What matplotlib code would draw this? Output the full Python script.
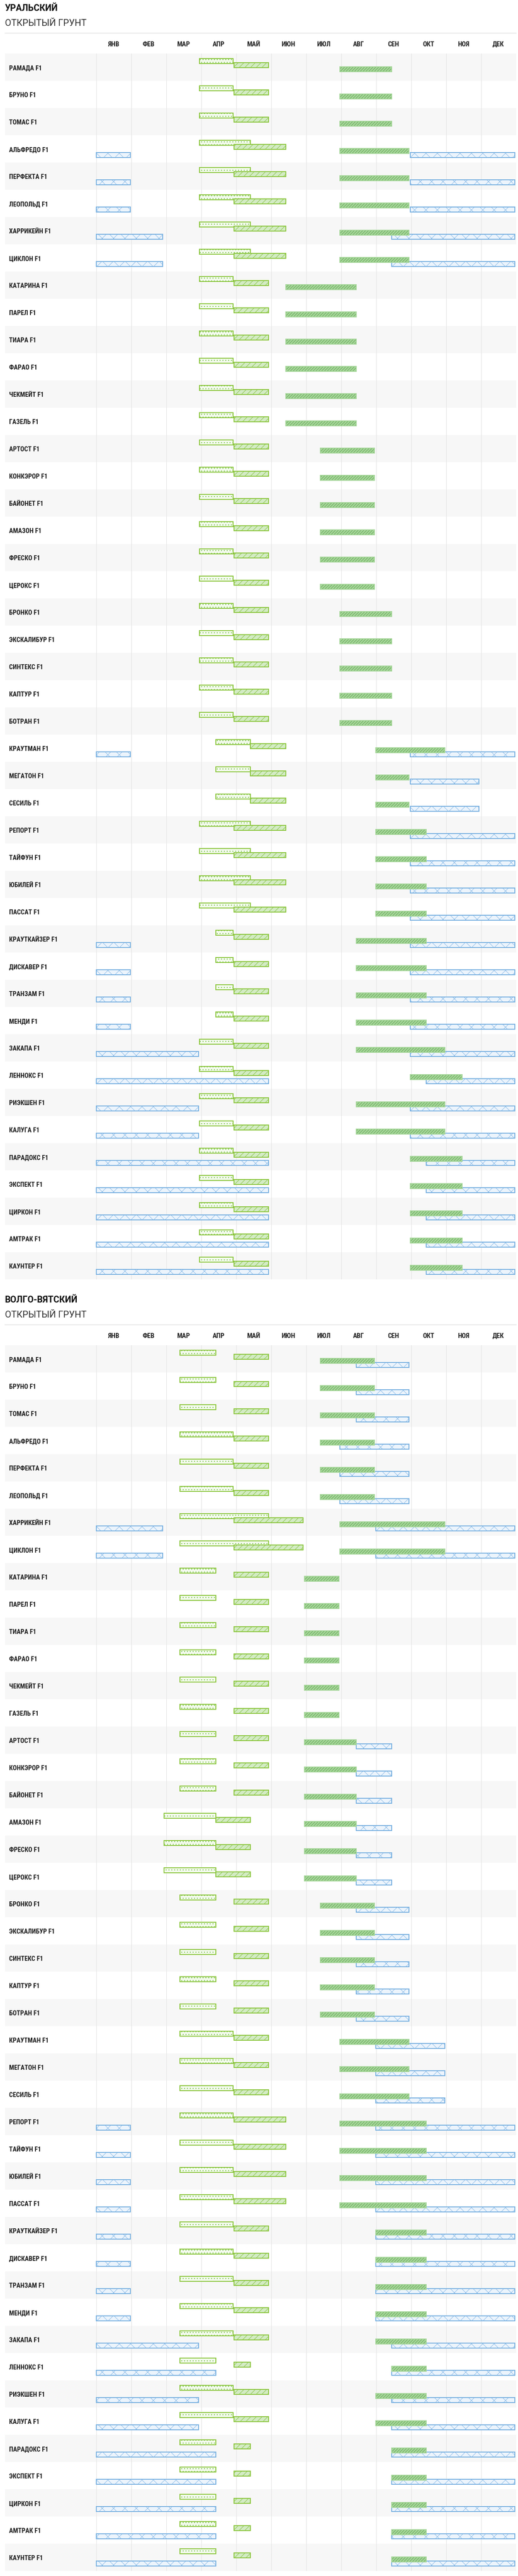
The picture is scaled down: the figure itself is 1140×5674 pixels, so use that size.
import datetime as dt
import matplotlib
matplotlib.use("Agg")
import matplotlib.pyplot as plt
from matplotlib import font_manager as fm
from matplotlib.lines import Line2D

# ---------------- DATA ----------------
MONTHS = ["ЯНВ", "ФЕВ", "МАР", "АПР", "МАЙ", "ИЮН", "ИЮЛ", "АВГ", "СЕН", "ОКТ", "НОЯ", "ДЕК"]

region_titles = ["УРАЛЬСКИЙ", "ВОЛГО-ВЯТСКИЙ"]
region_subtitle = "ОТКРЫТЫЙ ГРУНТ"

varieties = [
    "РАМАДА F1", "БРУНО F1", "ТОМАС F1", "АЛЬФРЕДО F1", "ПЕРФЕКТА F1", "ЛЕОПОЛЬД F1",
    "ХАРРИКЕЙН F1", "ЦИКЛОН F1", "КАТАРИНА F1", "ПАРЕЛ F1", "ТИАРА F1", "ФАРАО F1",
    "ЧЕКМЕЙТ F1", "ГАЗЕЛЬ F1", "АРТОСТ F1", "КОНКЭРОР F1", "БАЙОНЕТ F1", "АМАЗОН F1",
    "ФРЕСКО F1", "ЦЕРОКС F1", "БРОНКО F1", "ЭКСКАЛИБУР F1", "СИНТЕКС F1", "КАПТУР F1",
    "БОТРАН F1", "КРАУТМАН F1", "МЕГАТОН F1", "СЕСИЛЬ F1", "РЕПОРТ F1", "ТАЙФУН F1",
    "ЮБИЛЕЙ F1", "ПАССАТ F1", "КРАУТКАЙЗЕР F1", "ДИСКАВЕР F1", "ТРАНЗАМ F1", "МЕНДИ F1",
    "ЗАКАПА F1", "ЛЕННОКС F1", "РИЭКШЕН F1", "КАЛУГА F1", "ПАРАДОКС F1", "ЭКСПЕКТ F1",
    "ЦИРКОН F1", "АМТРАК F1", "КАУНТЕР F1",
]

# Уральский: (start, end) as "MM-DD"
ural_sowing = [
    ("04-01", "04-30"), ("04-01", "04-30"), ("04-01", "04-30"),
    ("04-01", "05-15"), ("04-01", "05-15"), ("04-01", "05-15"), ("04-01", "05-15"), ("04-01", "05-15"),
    ("04-01", "04-30"), ("04-01", "04-30"), ("04-01", "04-30"), ("04-01", "04-30"), ("04-01", "04-30"), ("04-01", "04-30"),
    ("04-01", "04-30"), ("04-01", "04-30"), ("04-01", "04-30"), ("04-01", "04-30"), ("04-01", "04-30"), ("04-01", "04-30"),
    ("04-01", "04-30"), ("04-01", "04-30"), ("04-01", "04-30"), ("04-01", "04-30"), ("04-01", "04-30"),
    ("04-15", "05-15"), ("04-15", "05-15"), ("04-15", "05-15"),
    ("04-01", "05-15"), ("04-01", "05-15"), ("04-01", "05-15"), ("04-01", "05-15"),
    ("04-15", "04-30"), ("04-15", "04-30"), ("04-15", "04-30"), ("04-15", "04-30"),
    ("04-01", "04-30"), ("04-01", "04-30"), ("04-01", "04-30"), ("04-01", "04-30"),
    ("04-01", "04-30"), ("04-01", "04-30"), ("04-01", "04-30"), ("04-01", "04-30"), ("04-01", "04-30"),
]
ural_planting = [
    ("05-01", "05-31"), ("05-01", "05-31"), ("05-01", "05-31"),
    ("05-01", "06-15"), ("05-01", "06-15"), ("05-01", "06-15"), ("05-01", "06-15"), ("05-01", "06-15"),
    ("05-01", "05-31"), ("05-01", "05-31"), ("05-01", "05-31"), ("05-01", "05-31"), ("05-01", "05-31"), ("05-01", "05-31"),
    ("05-01", "05-31"), ("05-01", "05-31"), ("05-01", "05-31"), ("05-01", "05-31"), ("05-01", "05-31"), ("05-01", "05-31"),
    ("05-01", "05-31"), ("05-01", "05-31"), ("05-01", "05-31"), ("05-01", "05-31"), ("05-01", "05-31"),
    ("05-15", "06-15"), ("05-15", "06-15"), ("05-15", "06-15"),
    ("05-01", "06-15"), ("05-01", "06-15"), ("05-01", "06-15"), ("05-01", "06-15"),
    ("05-01", "05-31"), ("05-01", "05-31"), ("05-01", "05-31"), ("05-01", "05-31"),
    ("05-01", "05-31"), ("05-01", "05-31"), ("05-01", "05-31"), ("05-01", "05-31"),
    ("05-01", "05-31"), ("05-01", "05-31"), ("05-01", "05-31"), ("05-01", "05-31"), ("05-01", "05-31"),
]
ural_harvest = [
    ("08-01", "09-15"), ("08-01", "09-15"), ("08-01", "09-15"),
    ("08-01", "09-30"), ("08-01", "09-30"), ("08-01", "09-30"), ("08-01", "09-30"), ("08-01", "09-30"),
    ("06-15", "08-15"), ("06-15", "08-15"), ("06-15", "08-15"), ("06-15", "08-15"), ("06-15", "08-15"), ("06-15", "08-15"),
    ("07-15", "08-31"), ("07-15", "08-31"), ("07-15", "08-31"), ("07-15", "08-31"), ("07-15", "08-31"), ("07-15", "08-31"),
    ("08-01", "09-15"), ("08-01", "09-15"), ("08-01", "09-15"), ("08-01", "09-15"), ("08-01", "09-15"),
    ("09-01", "10-31"), ("09-01", "09-30"), ("09-01", "09-30"),
    ("09-01", "10-15"), ("09-01", "10-15"), ("09-01", "10-15"), ("09-01", "10-15"),
    ("08-15", "10-15"), ("08-15", "10-15"), ("08-15", "10-15"), ("08-15", "10-15"),
    ("08-15", "10-31"), ("10-01", "11-15"), ("08-15", "10-31"), ("08-15", "10-31"),
    ("10-01", "11-15"), ("10-01", "11-15"), ("10-01", "11-15"), ("10-01", "11-15"), ("10-01", "11-15"),
]
ural_storage = [
    [], [], [],
    [("01-01", "01-31"), ("10-01", "12-31")], [("01-01", "01-31"), ("10-01", "12-31")],
    [("01-01", "01-31"), ("10-01", "12-31")],
    [("01-01", "02-28"), ("09-15", "12-31")], [("01-01", "02-28"), ("09-15", "12-31")],
    [], [], [], [], [], [],
    [], [], [], [], [], [],
    [], [], [], [], [],
    [("01-01", "01-31"), ("10-01", "12-31")], [("10-01", "11-30")], [("10-01", "11-30")],
    [("10-01", "12-31")], [("10-01", "12-31")], [("10-01", "12-31")], [("10-01", "12-31")],
    [("01-01", "01-31"), ("10-01", "12-31")], [("01-01", "01-31"), ("10-01", "12-31")],
    [("01-01", "01-31"), ("10-01", "12-31")], [("01-01", "01-31"), ("10-01", "12-31")],
    [("01-01", "03-31"), ("10-01", "12-31")], [("01-01", "05-31"), ("10-15", "12-31")],
    [("01-01", "03-31"), ("10-01", "12-31")], [("01-01", "03-31"), ("10-01", "12-31")],
    [("01-01", "05-31"), ("10-15", "12-31")], [("01-01", "05-31"), ("10-15", "12-31")],
    [("01-01", "05-31"), ("10-15", "12-31")], [("01-01", "05-31"), ("10-15", "12-31")],
    [("01-01", "05-31"), ("10-15", "12-31")],
]

# Волго-Вятский
volga_sowing = [
    ("03-15", "04-15"), ("03-15", "04-15"), ("03-15", "04-15"),
    ("03-15", "04-30"), ("03-15", "04-30"), ("03-15", "04-30"),
    ("03-15", "05-31"), ("03-15", "05-31"),
    ("03-15", "04-15"), ("03-15", "04-15"), ("03-15", "04-15"), ("03-15", "04-15"), ("03-15", "04-15"), ("03-15", "04-15"),
    ("03-15", "04-15"), ("03-15", "04-15"), ("03-15", "04-15"),
    ("03-01", "04-15"), ("03-01", "04-15"), ("03-01", "04-15"),
    ("03-15", "04-15"), ("03-15", "04-15"), ("03-15", "04-15"), ("03-15", "04-15"), ("03-15", "04-15"),
    ("03-15", "04-30"), ("03-15", "04-30"), ("03-15", "04-30"),
    ("03-15", "04-30"), ("03-15", "04-30"), ("03-15", "04-30"), ("03-15", "04-30"),
    ("03-15", "04-30"), ("03-15", "04-30"), ("03-15", "04-30"), ("03-15", "04-30"),
    ("03-15", "04-30"), ("03-15", "04-15"), ("03-15", "04-30"), ("03-15", "04-30"),
    ("03-15", "04-15"), ("03-15", "04-15"), ("03-15", "04-15"), ("03-15", "04-15"), ("03-15", "04-15"),
]
volga_planting = [
    ("05-01", "05-31"), ("05-01", "05-31"), ("05-01", "05-31"),
    ("05-01", "05-31"), ("05-01", "05-31"), ("05-01", "05-31"),
    ("05-01", "06-30"), ("05-01", "06-30"),
    ("05-01", "05-31"), ("05-01", "05-31"), ("05-01", "05-31"), ("05-01", "05-31"), ("05-01", "05-31"), ("05-01", "05-31"),
    ("05-01", "05-31"), ("05-01", "05-31"), ("05-01", "05-31"),
    ("04-15", "05-15"), ("04-15", "05-15"), ("04-15", "05-15"),
    ("05-01", "05-31"), ("05-01", "05-31"), ("05-01", "05-31"), ("05-01", "05-31"), ("05-01", "05-31"),
    ("05-01", "05-31"), ("05-01", "05-31"), ("05-01", "05-31"),
    ("05-01", "06-15"), ("05-01", "06-15"), ("05-01", "06-15"), ("05-01", "06-15"),
    ("05-01", "05-31"), ("05-01", "05-31"), ("05-01", "05-31"), ("05-01", "05-31"),
    ("05-01", "05-31"), ("05-01", "05-15"), ("05-01", "05-31"), ("05-01", "05-31"),
    ("05-01", "05-15"), ("05-01", "05-15"), ("05-01", "05-15"), ("05-01", "05-15"), ("05-01", "05-15"),
]
volga_harvest = [
    ("07-15", "08-31"), ("07-15", "08-31"), ("07-15", "08-31"),
    ("07-15", "08-31"), ("07-15", "08-31"), ("07-15", "08-31"),
    ("08-01", "10-31"), ("08-01", "10-31"),
    ("07-01", "07-31"), ("07-01", "07-31"), ("07-01", "07-31"), ("07-01", "07-31"), ("07-01", "07-31"), ("07-01", "07-31"),
    ("07-01", "08-15"), ("07-01", "08-15"), ("07-01", "08-15"),
    ("07-01", "08-15"), ("07-01", "08-15"), ("07-01", "08-15"),
    ("07-15", "08-31"), ("07-15", "08-31"), ("07-15", "08-31"), ("07-15", "08-31"), ("07-15", "08-31"),
    ("08-01", "09-30"), ("08-01", "09-30"), ("08-01", "09-30"),
    ("08-01", "10-15"), ("08-01", "10-15"), ("08-01", "10-15"), ("08-01", "10-15"),
    ("09-01", "10-15"), ("09-01", "10-15"), ("09-01", "10-15"), ("09-01", "10-15"),
    ("09-01", "10-15"), ("09-15", "10-15"), ("09-01", "10-15"), ("09-01", "10-15"),
    ("09-15", "10-15"), ("09-15", "10-15"), ("09-15", "10-15"), ("09-15", "10-15"), ("09-15", "10-15"),
]
volga_storage = [
    [("08-15", "09-30")], [("08-15", "09-30")], [("08-15", "09-30")],
    [("08-01", "09-30")], [("08-01", "09-30")], [("08-01", "09-30")],
    [("01-01", "02-28"), ("09-01", "12-31")], [("01-01", "02-28"), ("09-01", "12-31")],
    [], [], [], [], [], [],
    [("08-15", "09-15")], [("08-15", "09-15")], [("08-15", "09-15")],
    [("08-15", "09-15")], [("08-15", "09-15")], [("08-15", "09-15")],
    [("08-15", "09-30")], [("08-15", "09-30")], [("08-15", "09-30")], [("08-15", "09-30")], [("08-15", "09-30")],
    [("09-01", "10-31")], [("09-01", "10-31")], [("09-01", "10-31")],
    [("01-01", "01-31"), ("09-01", "12-31")], [("01-01", "01-31"), ("09-01", "12-31")],
    [("01-01", "01-31"), ("09-01", "12-31")], [("01-01", "01-31"), ("09-01", "12-31")],
    [("01-01", "01-31"), ("09-01", "12-31")], [("01-01", "01-31"), ("09-01", "12-31")],
    [("01-01", "01-31"), ("09-01", "12-31")], [("01-01", "01-31"), ("09-01", "12-31")],
    [("01-01", "03-31"), ("09-15", "12-31")], [("01-01", "04-15"), ("09-15", "12-31")],
    [("01-01", "03-31"), ("09-15", "12-31")], [("01-01", "03-31"), ("09-15", "12-31")],
    [("01-01", "04-15"), ("09-15", "12-31")], [("01-01", "04-15"), ("09-15", "12-31")],
    [("01-01", "04-15"), ("09-15", "12-31")], [("01-01", "04-15"), ("09-15", "12-31")],
    [("01-01", "04-15"), ("09-15", "12-31")],
]

sections = [
    (region_titles[0], ural_sowing, ural_planting, ural_harvest, ural_storage),
    (region_titles[1], volga_sowing, volga_planting, volga_harvest, volga_storage),
]

# ---------------- STYLE / LAYOUT ----------------
DPI = 75
W, H = 1140, 5674
PT = 72.0 / DPI  # points per pixel

X_LEFT, X_JAN, X_RIGHT = 11.0, 211.5, 1135.5
MONTH_W = (X_RIGHT - X_JAN) / 12.0
ROW_H = 60.0
HEADER_H = 118.0
SECTION_TOPS = [0.0, 2845.0]

available = {f.name for f in fm.fontManager.ttflist}


def pick(*names):
    for n in names:
        if n in available:
            return n
    return "DejaVu Sans"


F_COND = pick("Roboto Condensed", "Liberation Sans Narrow", "Roboto")
F_MAIN = pick("Roboto", "Liberation Sans", "DejaVu Sans")

BAND = "#f7f7f7"
GRID = "#e4e4e4"
TEXT = "#1e1e1e"

# lane: (path top offset px, fill, hatch color, hatch, border color, zorder)
STYLES = {
    "sow": (11, "#f4faee", "#6cbf3c", "..", "#8cc63f", 3),
    "plant": (20, "#d3ebc4", "#84c23f", "//", "#8cc63f", 4),
    "store": (38, "#ecf4fc", "#86b9e6", "x", "#78b0e0", 5),
    "harvest": (29, "#a6d69a", "#5c9f4c", "////", "#a6d69a", 6),
}
LANE_H = 11.0


def month_pos(md):
    m, d = (int(v) for v in md.split("-"))
    doy = dt.date(2023, m, d).timetuple().tm_yday - 1
    return doy / 365.0 * 12.0


def draw_lane(ax, segments_per_row, key):
    top, fill, hcol, hatch, border, z = STYLES[key]
    ys, lefts, widths = [], [], []
    for i, segs in enumerate(segments_per_row):
        for s, e in segs:
            a, b = month_pos(s), month_pos(e)
            ys.append(i + top / ROW_H)
            lefts.append(a)
            widths.append(b - a)
    if not ys:
        return
    h = LANE_H / ROW_H
    ax.barh(ys, widths, left=lefts, height=h, align="edge", color=fill,
            edgecolor="none", linewidth=0, zorder=z)
    ax.barh(ys, widths, left=lefts, height=h, align="edge", color="none",
            edgecolor=hcol, hatch=hatch, linewidth=0, zorder=z + 0.1)
    ax.barh(ys, widths, left=lefts, height=h, align="edge", color="none",
            edgecolor=border, linewidth=2 * PT, zorder=z + 0.2)


plt.rcParams["hatch.linewidth"] = 0.9
fig = plt.figure(figsize=(W / DPI, H / DPI), dpi=DPI)
fig.patch.set_facecolor("white")

n = len(varieties)
for (title, sow, plant, harv, store), T in zip(sections, SECTION_TOPS):
    rows_top = T + HEADER_H
    ax = fig.add_axes([X_LEFT / W, 1 - (rows_top + n * ROW_H) / H,
                       (X_RIGHT - X_LEFT) / W, n * ROW_H / H])
    ax.set_xlim(-(X_JAN - X_LEFT) / MONTH_W, 12)
    ax.set_ylim(n, 0)
    ax.axis("off")

    # row bands
    for i in range(n):
        if i % 2 == 0:
            ax.axhspan(i, i + 1, color=BAND, lw=0, zorder=0)
    # month grid
    for m in range(12):
        ax.axvline(m, color=GRID, lw=1.2 * PT, zorder=1)

    # bars
    draw_lane(ax, [[s] for s in sow], "sow")
    draw_lane(ax, [[p] for p in plant], "plant")
    draw_lane(ax, store, "store")
    draw_lane(ax, [[h] for h in harv], "harvest")

    # row labels
    lab_x = (20.0 - X_LEFT) / (X_RIGHT - X_LEFT)
    for i, name in enumerate(varieties):
        ax.text(lab_x, i + 36.3 / ROW_H, name, transform=ax.get_yaxis_transform(),
                ha="left", va="baseline", fontsize=14.5 * PT, fontweight="bold",
                family=F_COND, color=TEXT, zorder=10)

    # month labels
    for m, lab in enumerate(MONTHS):
        ax.text(m + 0.5, (101.7 - HEADER_H) / ROW_H, lab, ha="center", va="baseline",
                fontsize=15 * PT, fontweight="bold", family=F_COND, color="#222222",
                clip_on=False, zorder=10)

    # titles
    fig.text(X_LEFT / W, 1 - (T + 24.0) / H, title, ha="left", va="baseline",
             fontsize=19.5 * PT, fontweight="bold", family=F_MAIN, color="#111111")
    fig.text(X_LEFT / W, 1 - (T + 56.7) / H, region_subtitle, ha="left", va="baseline",
             fontsize=20 * PT, fontweight="normal", family=F_MAIN, color="#2e2e2e")
    fig.add_artist(Line2D([X_LEFT / W, X_RIGHT / W], [1 - (T + 73) / H] * 2,
                          color="#e2e2e2", lw=1.5 * PT))

fig.savefig("out.png", dpi=DPI, facecolor="white")
